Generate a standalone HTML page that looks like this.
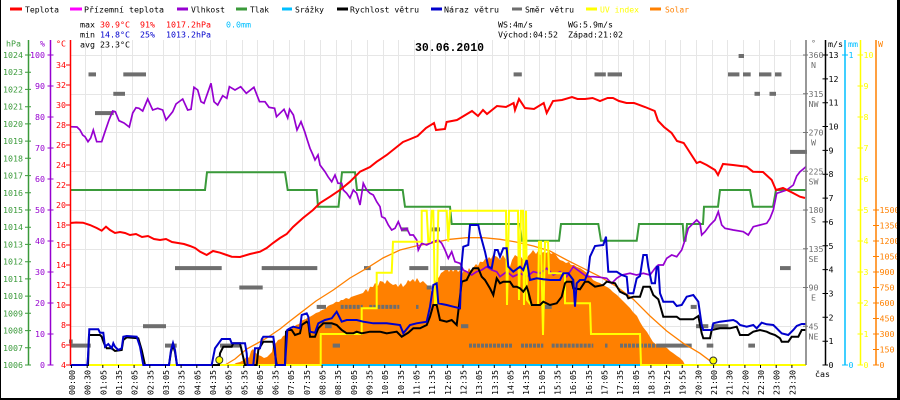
<!DOCTYPE html>
<html><head><meta charset="utf-8"><style>
html,body{margin:0;padding:0;background:#fff;}
svg{display:block;}
.f{font-family:"DejaVu Sans Mono","Liberation Mono",monospace;font-size:8.3px;}
.b{font-family:"Liberation Mono","DejaVu Sans Mono",monospace;font-size:12px;font-weight:bold;}
</style></head><body>
<svg width="900" height="400" viewBox="0 0 900 400" xmlns="http://www.w3.org/2000/svg">
<rect x="0" y="0" width="900" height="400" fill="#fff"/>
<!-- grid -->
<path d="M85.5 40V365M101.5 40V365M116.5 40V365M132.5 40V365M148.5 40V365M163.5 40V365M179.5 40V365M195.5 40V365M210.5 40V365M226.5 40V365M242.5 40V365M257.5 40V365M273.5 40V365M289.5 40V365M304.5 40V365M320.5 40V365M336.5 40V365M351.5 40V365M367.5 40V365M383.5 40V365M398.5 40V365M414.5 40V365M430.5 40V365M445.5 40V365M461.5 40V365M477.5 40V365M492.5 40V365M508.5 40V365M524.5 40V365M539.5 40V365M555.5 40V365M571.5 40V365M586.5 40V365M602.5 40V365M618.5 40V365M633.5 40V365M649.5 40V365M665.5 40V365M680.5 40V365M696.5 40V365M712.5 40V365M727.5 40V365M743.5 40V365M759.5 40V365M774.5 40V365M790.5 40V365M70 55.5H806M70 94.5H806M70 132.5H806M70 171.5H806M70 210.5H806M70 249.5H806M70 287.5H806M70 326.5H806" stroke="#e6e6e6" stroke-width="1" fill="none"/>

<!-- legend -->
<g stroke-width="3">
<line x1="10" y1="9" x2="22" y2="9" stroke="#ff0000"/>
<line x1="70" y1="9" x2="82" y2="9" stroke="#ff00ff"/>
<line x1="177" y1="9" x2="188" y2="9" stroke="#9600d0"/>
<line x1="236" y1="9" x2="247" y2="9" stroke="#3a9a3a"/>
<line x1="282" y1="9" x2="292" y2="9" stroke="#00bfff"/>
<line x1="337" y1="9" x2="348" y2="9" stroke="#000"/>
<line x1="431" y1="9" x2="442" y2="9" stroke="#0000cc"/>
<line x1="512" y1="9" x2="522" y2="9" stroke="#6e6e6e"/>
<line x1="586" y1="9" x2="597" y2="9" stroke="#ffff00"/>
<line x1="650" y1="9" x2="661" y2="9" stroke="#ff8000"/>
</g>
<g class="f" fill="#000">
<text x="25" y="12.5" textLength="34" lengthAdjust="spacingAndGlyphs">Teplota</text>
<text x="84" y="12.5" textLength="80" lengthAdjust="spacingAndGlyphs">Přízemní teplota</text>
<text x="191" y="12.5" textLength="34" lengthAdjust="spacingAndGlyphs">Vlhkost</text>
<text x="250" y="12.5" textLength="19" lengthAdjust="spacingAndGlyphs">Tlak</text>
<text x="295" y="12.5" textLength="29" lengthAdjust="spacingAndGlyphs">Srážky</text>
<text x="350" y="12.5" textLength="69" lengthAdjust="spacingAndGlyphs">Rychlost větru</text>
<text x="444" y="12.5" textLength="55" lengthAdjust="spacingAndGlyphs">Náraz větru</text>
<text x="525" y="12.5" textLength="49" lengthAdjust="spacingAndGlyphs">Směr větru</text>
<text x="600" y="12.5" textLength="39" lengthAdjust="spacingAndGlyphs" fill="#ffff00">UV index</text>
<text x="665" y="12.5" textLength="24" lengthAdjust="spacingAndGlyphs" fill="#ff8000">Solar</text>

<text x="80" y="27.5">max</text>
<text x="100" y="27.5" fill="#ff0000">30.9°C</text>
<text x="140" y="27.5" fill="#ff0000">91%</text>
<text x="166" y="27.5" fill="#ff0000">1017.2hPa</text>
<text x="226" y="27.5" fill="#00bfff">0.0mm</text>
<text x="80" y="37.5">min</text>
<text x="100" y="37.5" fill="#0000cc">14.8°C</text>
<text x="140" y="37.5" fill="#0000cc">25%</text>
<text x="166" y="37.5" fill="#0000cc">1013.2hPa</text>
<text x="80" y="47.5">avg 23.3°C</text>
<text x="498" y="27.5">WS:4m/s</text>
<text x="568" y="27.5">WG:5.9m/s</text>
<text x="498" y="37.5">Východ:04:52</text>
<text x="568" y="37.5">Západ:21:02</text>
</g>
<text class="b" x="415" y="51" textLength="69" lengthAdjust="spacingAndGlyphs">30.06.2010</text>

<!-- solar fill -->
<polygon fill="#ff8000" points="233,365 236,363 240,362 244,360 247,356 249,358 251,351 253,349 255,352 258,355 261,356 264,358 267,357 270,354 272,352 273,345 276,343 278,340 281,339 283,336 286,335 288,331 290,330 293,328 296,325 299,324 301,321 303,320 306,319 308,317 310,316.7 313,315 316,313 319,312 322,310 325,309 328,306 330,305 333,304 336,301.7 339,302 341,300 343,300 346,298 349,299 351,297 354,296 357,295 360,294 363,293 366,289 368,292 370,286.7 373,287 375,283 378,286 380,281 383,281.7 385,284 387,280 390,283 393,285 396,284 398,287 401,283 403,287 406,284 408,280 410,281.7 413,279 415,282 417,278 420,283 423,281 426,284 428,286 430,288 432,293 434,289 436,280 439,277 441,273 443,271.7 445,270 447,268 449,272 451,268 453,271.7 456,268 458,272 460,270 462,274 464,270 467,273 469,268 471,271 473,268 476,264 478,266 480,261.7 483,262 485,259 487,260 489,257 491,259 493,255 495,256 497,256.7 500,260 503,255 506,260 508,264 510,266.7 512,260 515,255 518,257 520,255 523,260 526,263 528,256 531,253 533,250 536,254 538,251 540,255 543,252 546,253 549,251 551,254 553,253 556,255 558,258 560,260 563,261 566,263 569,262 571,265 574,265 577,267 580,268 583,270 587,273 590,276 593,280 597,282 600,283 603,285 607,287 610,289 613,292 617,295 620,298 623,301 627,305 630,308 633,312 637,316 640,322 643,327 647,332 650,337 653,342 657,345 660,347 664,347 667,348 670,351 673,353 677,356 680,358 683,361 685,365"/>

<!-- wind direction blocks -->
<g fill="#6e6e6e">
<rect x="88.5" y="72.4" width="7.5" height="4"/>
<rect x="123.3" y="72.4" width="22.7" height="4"/>
<rect x="513.6" y="72.4" width="8.2" height="4"/>
<rect x="594.5" y="72.4" width="11.3" height="4"/>
<rect x="607.6" y="72.4" width="14.4" height="4"/>
<rect x="728" y="72.4" width="11.4" height="4"/>
<rect x="743" y="72.4" width="7.7" height="4"/>
<rect x="759" y="72.4" width="12.4" height="4"/>
<rect x="775" y="72.4" width="6.5" height="4"/>
<rect x="738.6" y="54" width="5.4" height="4"/>
<rect x="113.3" y="91.8" width="11.7" height="4"/>
<rect x="754.5" y="91.8" width="5.5" height="4"/>
<rect x="769.5" y="91.8" width="6.5" height="4"/>
<rect x="95" y="111.1" width="18.7" height="4"/>
<rect x="790" y="149.9" width="17" height="4"/>
<rect x="175" y="266.1" width="46.7" height="4"/>
<rect x="261.7" y="266.1" width="55.6" height="4"/>
<rect x="364" y="266.1" width="6.7" height="4"/>
<rect x="409.3" y="266.1" width="19" height="4"/>
<rect x="440" y="266.1" width="21" height="4"/>
<rect x="780" y="266.1" width="10.7" height="4"/>
<rect x="239.3" y="285.5" width="23.4" height="4"/>
<rect x="426.7" y="285.5" width="5" height="4"/>
<rect x="401" y="227.4" width="7.3" height="4"/>
<rect x="431.7" y="227.4" width="8.3" height="4"/>
<rect x="316.7" y="304.9" width="9.3" height="4"/>
<rect x="416" y="304.9" width="2.5" height="4"/>
<rect x="545" y="304.9" width="6.7" height="4"/>
<rect x="690.7" y="304.9" width="6" height="4"/>
<rect x="143" y="324.2" width="23" height="4"/>
<rect x="325" y="324.2" width="6.7" height="4"/>
<rect x="461" y="324.2" width="7.3" height="4"/>
<rect x="696" y="324.2" width="12.3" height="4"/>
<rect x="711.7" y="324.2" width="16.6" height="4"/>
<rect x="69" y="339.5" width="3.7" height="4"/>
<rect x="70" y="343.6" width="20.7" height="4"/>
<rect x="165" y="343.6" width="11.7" height="4"/>
<rect x="220" y="343.6" width="20" height="4"/>
<rect x="332.7" y="343.6" width="7.3" height="4"/>
<rect x="605" y="343.6" width="2.5" height="4"/>
<rect x="656.7" y="343.6" width="35" height="4"/>
<rect x="706.7" y="343.6" width="6.6" height="4"/>
<rect x="748.3" y="343.6" width="6.7" height="4"/>
</g>
<g stroke="#6e6e6e" stroke-width="4" stroke-dasharray="3 1">
<line x1="340.7" y1="306.9" x2="362.7" y2="306.9"/>
<line x1="369.3" y1="306.9" x2="399.3" y2="306.9"/>
<line x1="469" y1="345.6" x2="512.7" y2="345.6"/>
<line x1="521" y1="345.6" x2="543.3" y2="345.6"/>
<line x1="551.7" y1="345.6" x2="593.3" y2="345.6"/>
<line x1="620" y1="345.6" x2="656.7" y2="345.6"/>
</g>

<!-- solar max curve -->
<polyline fill="none" stroke="#ff8000" stroke-width="1.3" points="225,365 235,359 246.7,349 256,344 266.7,338 280,329 290,321 300,313.3 316,301 333.3,290 350,278 366.7,268.3 383,258 400,250 416,246 433.3,242.7 450,239.3 466.7,237.7 483.3,237.7 500,239.3 516,242 533.3,246 550,251 566.7,260 583.3,268.3 600,276.7 616.7,286.7 633.3,299.3 650,316 666.7,331 683.3,343.3 700,353.3 713.3,363.3"/>

<!-- pressure -->
<polyline fill="none" stroke="#3a9a3a" stroke-width="2" points="70,190 205,190 207,172.3 285,172.3 287.7,190 316.7,190 318,206.7 338.5,206.7 342,172.3 355,172.3 357,190 402.7,190 405,206.7 450,206.7 451.7,224 520,224 521.7,240.7 559,240.7 561,224 598.3,224 601,240.7 636.7,240.7 639,224 682.7,224 684,240.7 685.5,240.7 687,224 703,224 704,206.7 718,206.7 720,190 750,190 753,206.7 773,206.7 776,190 806,190"/>

<!-- humidity -->
<polyline fill="none" stroke="#9600d0" stroke-width="1.7" points="70,126.7 77,127 80,130 82.7,135 85,136.7 88,141.7 90.7,138 93.3,130 96.7,141.7 101.7,141.7 105,131.7 109,120 112.7,111 115.3,111.7 119,120.7 124,123 129.3,127 132.7,113 136,107.7 139,108.3 142.7,111 147.7,99 152.7,110 157.7,108.3 162.7,110 166,120 172.7,111.7 176,104 182.7,99 187.7,110 191,109.3 194,87.3 197.7,90 201,101.7 204,103.3 211,83.3 214,101.7 217.7,105 222.7,95.7 226.8,98.3 229.4,86.7 235,90 240.7,86.7 246.3,93.3 253.9,87.3 259.5,101.7 265,101.7 269,107.3 274.6,108.3 276.5,116.7 284,109.3 287.7,118 289.6,109.3 293.4,115 297,130 301,121.7 304.7,131.7 307.3,140 310,148.3 313,155 315,160 318,155 320,165 325,171.7 328,176.7 331.7,181.7 335,175 338,183.3 341.7,183.3 343.3,190 346.7,193.3 350,198 353.3,190 356.7,193.3 360,205 363.3,183.3 366.7,190 370,193.3 373.3,195 376.7,201.7 380,206.7 381.7,216.7 385,218.3 388.3,225 391.7,230 395,228.3 398.3,221.7 401.7,230 406.7,228.3 410,235 413.3,235 416.7,240 418.3,250 421.7,243.3 426.7,245 433.3,241.7 438.3,240 441.7,243.3 445,250 448.3,258.3 451.7,251.7 455,261.7 460,263.3 463.3,270 466.7,271.7 471.7,275 476.7,271.7 481.7,270 486.7,266.7 491.7,270 496.7,271.7 500,276.7 506.7,271.7 513,276.7 520,273.3 526.7,276.7 533.3,271.7 540,273.3 546.7,268.3 553.3,275 560,271.7 566.7,276.7 573.3,266.7 580,271.7 586.7,276.7 593.3,276.7 600,277.3 606.7,278.3 611.7,283.3 616.7,278.3 621.7,275 630,273.3 636.7,275 643.3,273.3 650,275 655,268.3 658.3,265 663.3,265 666.7,258.3 671.7,255 676.7,256.7 681.7,250 685,240 688.3,228.3 693.3,223.3 696.7,220 700,223.3 701.7,235 705,231.7 710,225 715,220 718.3,211.7 721.7,225 725,228.3 733.3,230 743.3,231.7 748.3,235 753.3,226.7 760,225 766.7,223.3 770,218.3 773.3,210 776.7,193.3 781.7,191.7 786.7,190 793.3,185 796.7,176 800,171.7 803.3,169 806,166.7"/>

<!-- temperature -->
<polyline fill="none" stroke="#ff0000" stroke-width="2" points="70,223 76,222.5 83,222.7 90,225 96.7,228 101.7,230.7 106,226.7 110,230 115,233 120,232 125,233 130,235 136,234 142,237 148,236 154,239 160,240 166,239 172,242 178,243 184,244 190,246 195,248 200,251.7 206.7,255 213,251 220,252.7 226.7,255 231.7,256.7 240,257 250,254 260,251.7 266.7,248 273,243 280,238 286.7,234 293,227 303,218 313,210 320,203 330,196.7 340,190 350,181.7 360,171.7 370,167 376.7,161.7 386.7,155 396.7,147 403,142 408,140 417.6,136 426,128 434,123 436,130 445,129 446.6,122 457,120 472,111 478,116 483,110 487,114 497,106 506,107 513.6,103 515,110 519,99 525,108 534,109 543.7,103 546.7,113 553,101 562,100 572,97 577.5,99 585,99 592.6,98 600,101 607.6,98 613,98 619,101 626.5,103 634,103 645,107 654.7,111 658,120.7 664,127 671.6,133 677,141 683.7,143 687,148 696.7,163 700,161.7 706.7,165 715,170 718,175 723,164 733,165 746.7,166.7 753,171.7 763,172 771.7,180 776,190 783,188 793,193 800,196.7 805,198"/>

<!-- rain baseline + UV -->
<line x1="70" y1="365" x2="806" y2="365" stroke="#00bfff" stroke-width="2"/>
<polyline fill="none" stroke="#ffff00" stroke-width="2" points="70,365 320.7,365 320.7,334 361.7,334 361.7,308.3 376.7,308.3 376.7,272.7 391.7,272.7 393,241.7 421.7,241.7 421.7,210.7 426.7,210.7 428.3,241.7 430,241.7 431.7,210.7 433.3,210.7 435,303.3 436.7,303.3 438.3,210.7 446.7,210.7 448.3,241.7 450,210.7 506,210.7 507,305 509,210.7 518,210.7 519,300 521,210.7 523,210.7 524,305 526,210.7 527,300 531,305 538,305 539,241.7 541,241.7 543,335 545,241.7 548,241.7 549,273.3 565,273.3 565,303.3 590,303.3 591,334 640,334 641,365 806,365"/>

<!-- wind speed -->
<polyline fill="none" stroke="#000" stroke-width="2" points="70,365 88,365 89,335 100,335 101.7,336.7 104,343.3 106.7,348.3 111.7,348.3 115,351 121.7,350 123.3,340 126.7,337.3 138.3,338.3 141.7,350 145,365 169,365 171,352 173,345 175,352 177,365 219,365 220,353.3 223.3,346.7 231.7,346.7 233.3,343.3 240,343.3 245,365 256.7,365 258.3,350 263.3,341.7 273.3,341.7 275,353.3 276.7,365 285,365 286,331.7 288.3,330 291.7,330 295,335 300,333.3 301.7,325 306.7,321.7 308.3,323.3 310,336.7 315,336.7 318.3,328.3 323.3,323.3 331.7,323.3 336.7,325 341.7,330 346.7,333.3 353.3,333.3 356.7,331.7 361.7,333.3 370,331.7 380,331.7 386.7,333.3 396.7,331.7 401.7,336.7 408.3,332.7 413.3,328.3 420,328.3 426.7,325 430,316.7 433.3,305 436.7,305 440,320 446.7,321.7 451.7,320 456.7,325 460,296.7 461.7,281.7 466.7,280 470,273.3 473.3,268.3 478.3,268.3 481.7,276.7 485,280 490,288.3 493.3,295 496.7,278.3 500,283.3 503.3,281.7 510,281.7 513.3,286.7 516.7,286.7 520,288.3 523.3,291.7 526.7,286.7 528.3,291.7 531.7,305 540,305 543.3,301.7 550,305 556.7,303.3 561.7,296.7 565,283.3 566.7,281.7 571.7,281.7 573.3,288.3 580,289.3 585,281.7 588.3,281.7 595,286.7 603.3,285 606.7,281.7 615,283.3 620,291.7 626.7,295 628.3,298.3 633.3,296.7 640,296.7 643.3,286.7 650,286.7 653.3,295 658.3,299.3 660,305 663.3,316.7 676.7,316.7 680,319.3 693.3,319.3 698.3,316 701.7,333.3 703.3,338.3 710,338.3 711.7,330 720,328.3 730,328.3 736.7,326.7 740,335 748.3,335 753.3,331.7 760,330 766.7,331.7 770,333.3 775,335 780,338.3 781.7,341.7 788.3,341.7 791.7,336.7 798.3,336.7 801.7,330 806,330"/>

<!-- gust -->
<polyline fill="none" stroke="#0000cc" stroke-width="2" points="70,365 87.3,365 88,356.7 89.3,329.3 98.3,329.3 100,332.7 103.3,332.7 105,346.7 108.3,344 111.7,348.3 113.3,343.3 115,346.7 118.3,350 121.7,348.3 123.3,336.7 126.7,336 136.7,336.7 140,346.7 143.3,365 169,365 171,350 173,343 175,350 177,365 211.7,365 213.3,356.7 215,348.3 221.7,339 230,339 231.7,343.3 245,343.3 246.7,353.3 247.5,365 253.3,365 255,348.3 260,348.3 261.7,339.3 263.3,336.7 273.3,336.7 275,348.3 276,365 285,365 287.3,330 290,328.3 293.3,326.7 300,328.3 301.7,315 306.7,313.3 308.3,316.7 310,331.7 315,332.7 318.3,323.3 325,320 331.7,318.3 336.7,311.7 341.7,321.7 346.7,320 356.7,320 363.3,321.7 373.3,323.3 386.7,323.3 400,325 403.3,333.3 410,325 416.7,323.3 426.7,321.7 430,306.7 433.3,285 436.7,283.3 438.3,303.3 446.7,305 453.3,306.7 460,308.3 461.7,263.3 463.3,246.7 468.3,245 470,225 478.3,225 480,233.3 485,251.7 488.3,266.7 491.7,268.3 495,250 497.7,250 500,256.7 503.3,248.3 506.7,248.3 508.3,266.7 513.3,271.7 520,266.7 523.3,270 526.7,260 530,280 536.7,278.3 543.3,279.3 550,280 560,280 563.3,273.3 568.3,273.3 573.3,280 575,306.7 576.7,283.3 580,280 585,280 588.3,271.7 590,256.7 595,246 603.3,245 606,236.7 606.7,248.3 608.3,271.7 616.7,271.7 621.7,275 626.7,276.7 628.3,293.3 633.3,293.3 636.7,278.3 640,276 641.7,265 643.3,255 646.7,255 648.3,266.7 651.7,283.3 655,283.3 656.7,266.7 658.3,266.7 660,293.3 663.3,301.7 673.3,301.7 676.7,306 681.7,305 686.7,296.7 693.3,295 698.3,301.7 701.7,325 703.3,330 711.7,330 713.3,323.3 720,321.7 733.3,320 736.7,321.7 740,325 746.7,326.7 753.3,325 756.7,328.3 761.7,322.7 766.7,324.3 773.3,325 776.7,328.3 781.7,333.3 788.3,335 793.3,330 796.7,326 801.7,324 806,324"/>

<!-- sunrise / sunset markers -->
<circle cx="219.3" cy="360" r="3.5" fill="#ffff00" stroke="#333" stroke-width="1"/>
<circle cx="713.3" cy="360.5" r="3.5" fill="#ffff00" stroke="#333" stroke-width="1"/>

<!-- left axes -->
<line x1="28.5" y1="40" x2="28.5" y2="365" stroke="#3a9a3a" stroke-width="1.5"/>
<line x1="50.5" y1="40" x2="50.5" y2="365" stroke="#9600d0" stroke-width="1.5"/>
<line x1="70.5" y1="40" x2="70.5" y2="365" stroke="#ff0000" stroke-width="1.5"/>
<path d="M25 55H31M25 72.2H31M25 89.4H31M25 106.7H31M25 123.9H31M25 141.1H31M25 158.3H31M25 175.6H31M25 192.8H31M25 210H31M25 227.2H31M25 244.4H31M25 261.7H31M25 278.9H31M25 296.1H31M25 313.3H31M25 330.6H31M25 347.8H31M25 365H31" stroke="#3a9a3a" stroke-width="1"/>
<path d="M47.5 55H53.5M47.5 86H53.5M47.5 117H53.5M47.5 148H53.5M47.5 179H53.5M47.5 210H53.5M47.5 241H53.5M47.5 272H53.5M47.5 303H53.5M47.5 334H53.5M47.5 365H53.5" stroke="#9600d0" stroke-width="1"/>
<path d="M66 65H70M66 85H70M66 105H70M66 125H70M66 145H70M66 165H70M66 185H70M66 205H70M66 225H70M66 245H70M66 265H70M66 285H70M66 305H70M66 325H70M66 345H70M66 365H70" stroke="#ff0000" stroke-width="1"/>
<g class="f" fill="#3a9a3a">
<text x="6" y="46.5">hPa</text>
<text x="3" y="58">1024</text><text x="3" y="75.2">1023</text><text x="3" y="92.4">1022</text><text x="3" y="109.7">1021</text><text x="3" y="126.9">1020</text><text x="3" y="144.1">1019</text><text x="3" y="161.3">1018</text><text x="3" y="178.6">1017</text><text x="3" y="195.8">1016</text><text x="3" y="213">1015</text><text x="3" y="230.2">1014</text><text x="3" y="247.4">1013</text><text x="3" y="264.7">1012</text><text x="3" y="281.9">1011</text><text x="3" y="299.1">1010</text><text x="3" y="316.3">1009</text><text x="3" y="333.6">1008</text><text x="3" y="350.8">1007</text><text x="3" y="368">1006</text>
</g>
<g class="f" fill="#9600d0" text-anchor="end">
<text x="45" y="46.5">%</text>
<text x="45" y="58">100</text><text x="45" y="89">90</text><text x="45" y="120">80</text><text x="45" y="151">70</text><text x="45" y="182">60</text><text x="45" y="213">50</text><text x="45" y="244">40</text><text x="45" y="275">30</text><text x="45" y="306">20</text><text x="45" y="337">10</text><text x="45" y="368">0</text>
</g>
<g class="f" fill="#ff0000" text-anchor="end">
<text x="66" y="46.5">°C</text>
<text x="66" y="68">34</text><text x="66" y="88">32</text><text x="66" y="108">30</text><text x="66" y="128">28</text><text x="66" y="148">26</text><text x="66" y="168">24</text><text x="66" y="188">22</text><text x="66" y="208">20</text><text x="66" y="228">18</text><text x="66" y="248">16</text><text x="66" y="268">14</text><text x="66" y="288">12</text><text x="66" y="308">10</text><text x="66" y="328">8</text><text x="66" y="348">6</text><text x="66" y="368">4</text>
</g>

<!-- right axes -->
<line x1="806" y1="40" x2="806" y2="365" stroke="#777" stroke-width="1.5"/>
<line x1="825.5" y1="40" x2="825.5" y2="365" stroke="#000" stroke-width="1.5"/>
<line x1="845" y1="40" x2="845" y2="365" stroke="#00bfff" stroke-width="1.5"/>
<line x1="860.5" y1="40" x2="860.5" y2="365" stroke="#ffff00" stroke-width="1.5"/>
<line x1="876" y1="40" x2="876" y2="365" stroke="#ff8000" stroke-width="1.5"/>
<path d="M803 55H808M803 93.75H808M803 132.5H808M803 171.25H808M803 210H808M803 248.75H808M803 287.5H808M803 326.25H808" stroke="#777" stroke-width="1"/>
<path d="M822.5 55H828M822.5 78.85H828M822.5 102.7H828M822.5 126.5H828M822.5 150.4H828M822.5 174.2H828M822.5 198.1H828M822.5 221.9H828M822.5 245.8H828M822.5 269.6H828M822.5 293.5H828M822.5 317.3H828M822.5 341.2H828M822.5 365H828" stroke="#000" stroke-width="1"/>
<path d="M842 55H848M842 365H848" stroke="#00bfff" stroke-width="1"/>
<path d="M857.5 55H863M857.5 86H863M857.5 117H863M857.5 148H863M857.5 179H863M857.5 210H863M857.5 241H863M857.5 272H863M857.5 303H863M857.5 334H863M857.5 365H863" stroke="#ffff00" stroke-width="1"/>
<path d="M873 210H879M873 225.5H879M873 241H879M873 256.5H879M873 272H879M873 287.5H879M873 303H879M873 318.5H879M873 334H879M873 349.5H879M873 365H879" stroke="#ff8000" stroke-width="1"/>
<g class="f" fill="#6e6e6e">
<text x="811" y="46">°</text>
<text x="808.5" y="58">360</text><text x="813.5" y="68" text-anchor="middle">N</text>
<text x="808.5" y="96.75">315</text><text x="813.5" y="106.75" text-anchor="middle">NW</text>
<text x="808.5" y="135.5">270</text><text x="813.5" y="145.5" text-anchor="middle">W</text>
<text x="808.5" y="174.25">225</text><text x="813.5" y="184.25" text-anchor="middle">SW</text>
<text x="808.5" y="213">180</text><text x="813.5" y="223" text-anchor="middle">S</text>
<text x="808.5" y="251.75">135</text><text x="813.5" y="261.75" text-anchor="middle">SE</text>
<text x="808.5" y="290.5">90</text><text x="813.5" y="300.5" text-anchor="middle">E</text>
<text x="808.5" y="329.25">45</text><text x="813.5" y="339.25" text-anchor="middle">NE</text>
</g>
<g class="f" fill="#000">
<text x="828" y="47">m/s</text>
<text x="828.5" y="58">13</text><text x="828.5" y="81.85">12</text><text x="828.5" y="105.7">11</text><text x="828.5" y="129.5">10</text><text x="828.5" y="153.4">9</text><text x="828.5" y="177.2">8</text><text x="828.5" y="201.1">7</text><text x="828.5" y="224.9">6</text><text x="828.5" y="248.8">5</text><text x="828.5" y="272.6">4</text><text x="828.5" y="296.5">3</text><text x="828.5" y="320.3">2</text><text x="828.5" y="344.2">1</text><text x="828.5" y="368">0</text>
<text x="815" y="377">čas</text>
</g>
<g class="f" fill="#00bfff">
<text x="848" y="47">mm</text>
<text x="848.5" y="58">1</text><text x="848.5" y="368">0</text>
</g>
<g class="f" fill="#ffff00">
<text x="863.5" y="58">10</text><text x="863.5" y="89">9</text><text x="863.5" y="120">8</text><text x="863.5" y="151">7</text><text x="863.5" y="182">6</text><text x="863.5" y="213">5</text><text x="863.5" y="244">4</text><text x="863.5" y="275">3</text><text x="863.5" y="306">2</text><text x="863.5" y="337">1</text><text x="863.5" y="368">0</text>
</g>
<g class="f" fill="#ff8000">
<text x="878" y="47">W</text>
<text x="879.5" y="213">1500</text><text x="879.5" y="228.5">1350</text><text x="879.5" y="244">1200</text><text x="879.5" y="259.5">1050</text><text x="879.5" y="275">900</text><text x="879.5" y="290.5">750</text><text x="879.5" y="306">600</text><text x="879.5" y="321.5">450</text><text x="879.5" y="337">300</text><text x="879.5" y="352.5">150</text><text x="879.5" y="368">0</text>
</g>

<!-- bottom ticks -->
<path d="M71.5 365V368M87.2 365V368M102.8 365V368M118.5 365V368M134.1 365V368M149.8 365V368M165.5 365V368M181.1 365V368M196.8 365V368M212.4 365V368M228.1 365V368M243.8 365V368M259.4 365V368M275.1 365V368M290.7 365V368M306.4 365V368M322.1 365V368M337.7 365V368M353.4 365V368M369 365V368M384.7 365V368M400.4 365V368M416 365V368M431.7 365V368M447.3 365V368M463 365V368M478.7 365V368M494.3 365V368M510 365V368M525.6 365V368M541.3 365V368M557 365V368M572.6 365V368M588.3 365V368M603.9 365V368M619.6 365V368M635.3 365V368M650.9 365V368M666.6 365V368M682.2 365V368M697.9 365V368M713.6 365V368M729.2 365V368M744.9 365V368M760.5 365V368M776.2 365V368M791.9 365V368" stroke="#000" stroke-width="1"/>
<g class="f" fill="#000">
<text transform="translate(75,395) rotate(-90)">00:00</text>
<text transform="translate(90.66,395) rotate(-90)">00:30</text>
<text transform="translate(106.32,395) rotate(-90)">01:05</text>
<text transform="translate(121.98,395) rotate(-90)">01:35</text>
<text transform="translate(137.64,395) rotate(-90)">02:05</text>
<text transform="translate(153.3,395) rotate(-90)">02:35</text>
<text transform="translate(168.96,395) rotate(-90)">03:05</text>
<text transform="translate(184.62,395) rotate(-90)">03:35</text>
<text transform="translate(200.28,395) rotate(-90)">04:05</text>
<text transform="translate(215.94,395) rotate(-90)">04:35</text>
<text transform="translate(231.6,395) rotate(-90)">05:05</text>
<text transform="translate(247.26,395) rotate(-90)">05:35</text>
<text transform="translate(262.92,395) rotate(-90)">06:05</text>
<text transform="translate(278.58,395) rotate(-90)">06:35</text>
<text transform="translate(294.24,395) rotate(-90)">07:05</text>
<text transform="translate(309.9,395) rotate(-90)">07:35</text>
<text transform="translate(325.56,395) rotate(-90)">08:05</text>
<text transform="translate(341.22,395) rotate(-90)">08:35</text>
<text transform="translate(356.88,395) rotate(-90)">09:05</text>
<text transform="translate(372.54,395) rotate(-90)">09:35</text>
<text transform="translate(388.2,395) rotate(-90)">10:05</text>
<text transform="translate(403.86,395) rotate(-90)">10:35</text>
<text transform="translate(419.52,395) rotate(-90)">11:05</text>
<text transform="translate(435.18,395) rotate(-90)">11:35</text>
<text transform="translate(450.84,395) rotate(-90)">12:05</text>
<text transform="translate(466.5,395) rotate(-90)">12:35</text>
<text transform="translate(482.16,395) rotate(-90)">13:05</text>
<text transform="translate(497.82,395) rotate(-90)">13:35</text>
<text transform="translate(513.48,395) rotate(-90)">14:05</text>
<text transform="translate(529.14,395) rotate(-90)">14:35</text>
<text transform="translate(544.8,395) rotate(-90)">15:05</text>
<text transform="translate(560.46,395) rotate(-90)">15:35</text>
<text transform="translate(576.12,395) rotate(-90)">16:05</text>
<text transform="translate(591.78,395) rotate(-90)">16:35</text>
<text transform="translate(607.44,395) rotate(-90)">17:05</text>
<text transform="translate(623.1,395) rotate(-90)">17:35</text>
<text transform="translate(638.76,395) rotate(-90)">18:05</text>
<text transform="translate(654.42,395) rotate(-90)">18:35</text>
<text transform="translate(670.08,395) rotate(-90)">19:25</text>
<text transform="translate(685.74,395) rotate(-90)">19:55</text>
<text transform="translate(701.4,395) rotate(-90)">20:30</text>
<text transform="translate(717.06,395) rotate(-90)">21:00</text>
<text transform="translate(732.72,395) rotate(-90)">21:30</text>
<text transform="translate(748.38,395) rotate(-90)">22:00</text>
<text transform="translate(764.04,395) rotate(-90)">22:30</text>
<text transform="translate(779.7,395) rotate(-90)">23:00</text>
<text transform="translate(795.36,395) rotate(-90)">23:30</text>
</g>

<!-- frame -->
<rect x="0" y="0" width="1" height="400" fill="#000"/>
<rect x="897" y="0" width="3" height="400" fill="#000"/>
<rect x="0" y="398" width="900" height="2" fill="#000"/>
</svg>
</body></html>
